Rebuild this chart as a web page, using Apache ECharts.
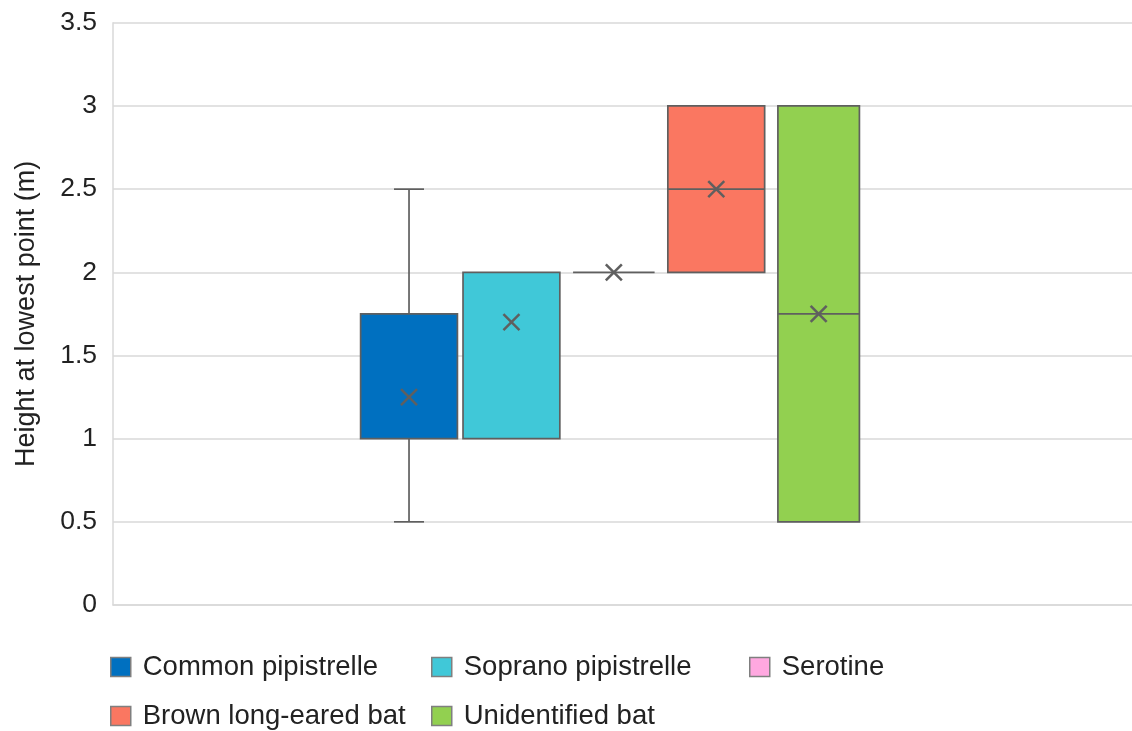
<!DOCTYPE html>
<html>
<head>
<meta charset="utf-8">
<script src="https://cdn.jsdelivr.net/npm/echarts@6/dist/echarts.min.js"></script>
<style>
html,body{margin:0;padding:0;background:#fff;}
#chart{width:1132px;height:731px;}
</style>
</head>
<body>
<div id="chart"></div>
<script>
// ---- data ----
const species = ['Common pipistrelle', 'Soprano pipistrelle', 'Serotine', 'Brown long-eared bat', 'Unidentified bat'];
const whiskerLow = [0.5, 1, 2, 2, 0.5];
const quartile1 = [1, 1, 2, 2, 0.5];
const medians = [1, 2, 2, 2.5, 1.75];
const quartile3 = [1.75, 2, 2, 3, 3];
const whiskerHigh = [2.5, 2, 2, 3, 3];
const means = [1.25, 1.7, 2, 2.5, 1.75];
const yTicks = ['0', '0.5', '1', '1.5', '2', '2.5', '3', '3.5'];

// ---- style ----
const colors = ['#0070C0', '#40C8D8', '#FFA8E0', '#FA7761', '#92D050'];
const boxWidthFrac = [0.095, 0.095, 0.080, 0.095, 0.080];
const slotFrac = 0.1005;
const groupShiftFrac = -0.0085;
const strokeColor = '#5f5f5f';
const fontFam = 'Liberation Sans, Arial, sans-serif';
const legendLayout = [
  { left: 110, top: 652 }, { left: 431, top: 652 }, { left: 749, top: 652 },
  { left: 110, top: 701 }, { left: 431, top: 701 }
];

const chart = echarts.init(document.getElementById('chart'));

function makeRender(idx) {
  return function (params, api) {
    const band = api.size([1, 0])[0];
    const base = api.coord([api.value(0), 0]);
    const cx = base[0] + (idx - 2) * slotFrac * band + groupShiftFrac * band;
    const w = boxWidthFrac[idx] * band;
    const yLo = api.coord([0, api.value(1)])[1];
    const yQ1 = api.coord([0, api.value(2)])[1];
    const yMed = api.coord([0, api.value(3)])[1];
    const yQ3 = api.coord([0, api.value(4)])[1];
    const yHi = api.coord([0, api.value(5)])[1];
    const yMean = api.coord([0, api.value(6)])[1];
    const lineStyle = { stroke: strokeColor, lineWidth: 1.7, fill: null };
    const children = [];
    const cap = 30;
    if (yLo > yQ1 + 0.5) {
      children.push({ type: 'line', shape: { x1: cx, y1: yQ1, x2: cx, y2: yLo }, style: lineStyle });
      children.push({ type: 'line', shape: { x1: cx - cap / 2, y1: yLo, x2: cx + cap / 2, y2: yLo }, style: lineStyle });
    }
    if (yHi < yQ3 - 0.5) {
      children.push({ type: 'line', shape: { x1: cx, y1: yHi, x2: cx, y2: yQ3 }, style: lineStyle });
      children.push({ type: 'line', shape: { x1: cx - cap / 2, y1: yHi, x2: cx + cap / 2, y2: yHi }, style: lineStyle });
    }
    if (Math.abs(yQ1 - yQ3) < 0.5) {
      children.push({ type: 'line', shape: { x1: cx - w / 2, y1: yQ1, x2: cx + w / 2, y2: yQ1 }, style: lineStyle });
    } else {
      children.push({ type: 'rect', shape: { x: cx - w / 2, y: yQ3, width: w, height: yQ1 - yQ3 },
        style: { fill: colors[idx], stroke: strokeColor, lineWidth: 1.7 } });
      if (Math.abs(yMed - yQ1) > 0.5 && Math.abs(yMed - yQ3) > 0.5) {
        children.push({ type: 'line', shape: { x1: cx - w / 2, y1: yMed, x2: cx + w / 2, y2: yMed }, style: lineStyle });
      }
    }
    const m = 8;
    const xStyle = { stroke: strokeColor, lineWidth: 2.5, fill: null };
    children.push({ type: 'line', shape: { x1: cx - m, y1: yMean - m, x2: cx + m, y2: yMean + m }, style: xStyle });
    children.push({ type: 'line', shape: { x1: cx - m, y1: yMean + m, x2: cx + m, y2: yMean - m }, style: xStyle });
    return { type: 'group', children: children };
  };
}

const series = species.map(function (name, i) {
  return {
    name: name,
    type: 'custom',
    renderItem: makeRender(i),
    itemStyle: { color: colors[i], borderColor: '#7f7f7f', borderWidth: 1.5 },
    encode: { x: 0, y: [1, 2, 3, 4, 5, 6] },
    data: [[0, whiskerLow[i], quartile1[i], medians[i], quartile3[i], whiskerHigh[i], means[i]]]
  };
});

const legends = species.map(function (name, i) {
  return {
    left: legendLayout[i].left,
    top: legendLayout[i].top,
    padding: 0,
    itemWidth: 20,
    itemHeight: 19,
    selectedMode: false,
    textStyle: { fontFamily: fontFam, fontSize: 27.5, lineHeight: 30, color: '#222222', padding: [0, 0, 0, 7] },
    data: [{ name: name, icon: 'rect', itemStyle: { color: colors[i], borderColor: '#7f7f7f', borderWidth: 1.5 } }]
  };
});

chart.setOption({
  animation: false,
  backgroundColor: '#ffffff',
  grid: { left: 113, right: 0, top: 22.8, bottom: 126, containLabel: false },
  legend: legends,
  xAxis: {
    type: 'category',
    data: [''],
    boundaryGap: true,
    axisLine: { show: true, lineStyle: { color: '#d9d9d9', width: 1.5 } },
    axisTick: { show: false },
    axisLabel: { show: false },
    splitLine: { show: false }
  },
  yAxis: {
    type: 'value',
    min: 0,
    max: 3.5,
    interval: 0.5,
    name: 'Height at lowest point (m)',
    nameLocation: 'middle',
    nameGap: 73,
    nameTextStyle: { fontFamily: fontFam, fontSize: 27, color: '#222222' },
    axisLine: { show: true, lineStyle: { color: '#d9d9d9', width: 1.5 } },
    axisTick: { show: false },
    axisLabel: {
      margin: 16,
      fontFamily: fontFam,
      fontSize: 26.5,
      color: '#222222',
      formatter: function (v) { return yTicks[Math.round(v / 0.5)]; }
    },
    splitLine: { show: true, lineStyle: { color: '#d9d9d9', width: 1.5 } }
  },
  series: series
});
</script>
</body>
</html>
